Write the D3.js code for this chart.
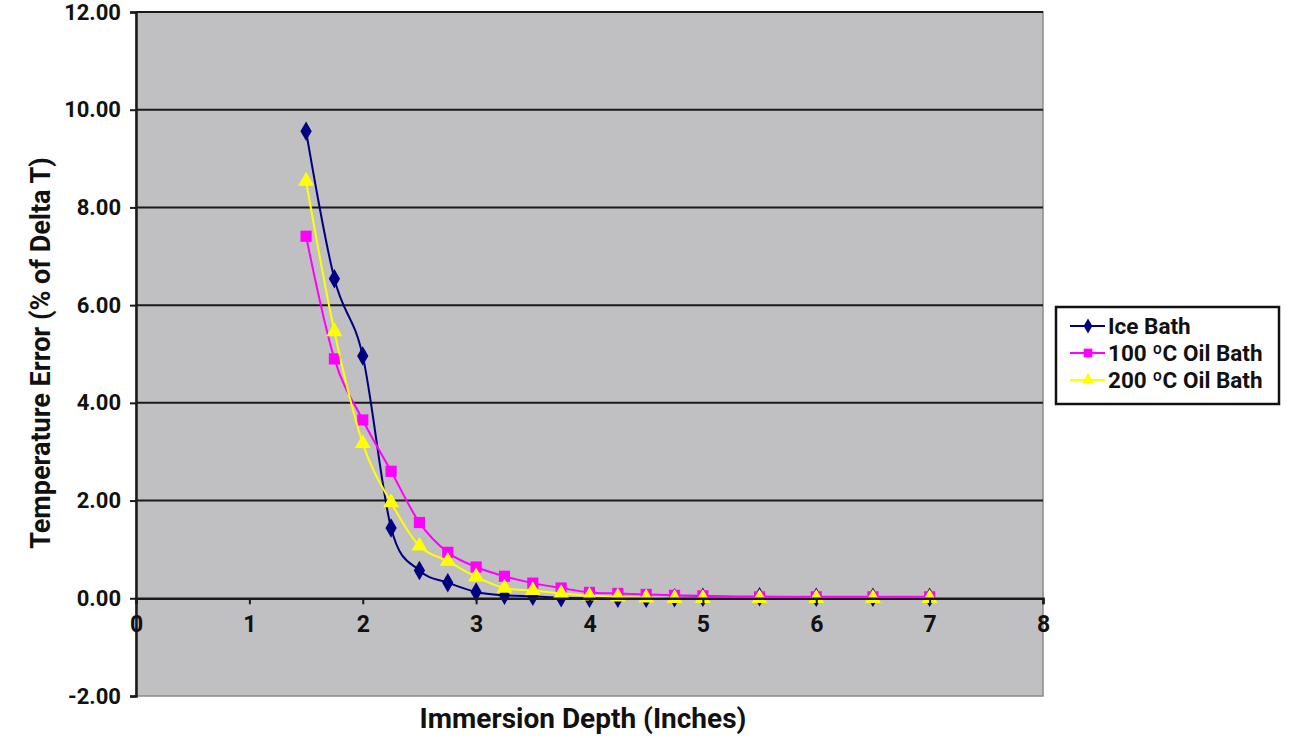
<!DOCTYPE html>
<html>
<head>
<meta charset="utf-8">
<script src="https://cdn.jsdelivr.net/npm/d3@7"></script>
<style>
  html, body { margin: 0; padding: 0; background: #ffffff; }
  svg { display: block; font-family: Roboto, "Noto Sans", sans-serif; }
</style>
</head>
<body>
<svg id="chart" width="1300" height="738"></svg>
<script>
// ---- Data ----
const depths = [1.5, 1.75, 2, 2.25, 2.5, 2.75, 3, 3.25, 3.5, 3.75, 4, 4.25, 4.5, 4.75, 5, 5.5, 6, 6.5, 7];
const iceBath   = [9.56, 6.54, 4.96, 1.44, 0.57, 0.32, 0.13, 0.06, 0.04, 0.01, 0.0, 0.0, 0.0, 0.01, 0.02, 0.03, 0.02, 0.02, 0.02];
const oil100    = [7.41, 4.90, 3.65, 2.60, 1.55, 0.94, 0.64, 0.45, 0.31, 0.21, 0.12, 0.10, 0.08, 0.06, 0.05, 0.03, 0.03, 0.03, 0.03];
const oil200    = [8.54, 5.46, 3.17, 1.96, 1.07, 0.76, 0.44, 0.21, 0.16, 0.10, 0.05, 0.03, 0.01, 0.0, 0.0, 0.0, 0.0, 0.0, 0.0];
const seriesNames = ["Ice Bath", "100 ºC Oil Bath", "200 ºC Oil Bath"];
const yTicks = [-2, 0, 2, 4, 6, 8, 10, 12];
const xTicks = [0, 1, 2, 3, 4, 5, 6, 7, 8];
const xTitle = "Immersion Depth (Inches)";
const yTitle = "Temperature Error (% of Delta T)";

const seriesStyle = [
  { color: "#000080", symbol: d3.symbolDiamond, size: 110 },
  { color: "#FF00FF", symbol: d3.symbolSquare, size: 125 },
  { color: "#FFFF00", symbol: d3.symbolTriangle, size: 110 }
];
const seriesValues = [iceBath, oil100, oil200];

// ---- Layout ----
const svg = d3.select("#chart");
const pLeft = 136, pTop = 12, pRight = 1043, pBottom = 696;
const x = d3.scaleLinear().domain([0, 8]).range([pLeft, pRight]);
const y = d3.scaleLinear().domain([-2, 12]).range([pBottom, pTop]);
const yFmt = v => d3.format(".2f")(v).replace("\u2212", "-");

// plot area
svg.append("rect")
  .attr("x", pLeft).attr("y", pTop)
  .attr("width", pRight - pLeft).attr("height", pBottom - pTop)
  .attr("fill", "#C0BFC1")
  .attr("stroke", "#8a8a8a").attr("stroke-width", 1.5);

// gridlines
svg.append("g")
  .selectAll("line")
  .data(yTicks.filter(v => v !== 0 && v !== -2))
  .join("line")
  .attr("x1", pLeft).attr("x2", pRight)
  .attr("y1", d => y(d)).attr("y2", d => y(d))
  .attr("stroke", "#1a1a1a").attr("stroke-width", 2);

// Y axis
const yAxis = svg.append("g")
  .attr("transform", `translate(${pLeft},0)`)
  .call(d3.axisLeft(y).tickValues(yTicks).tickFormat(yFmt).tickSize(6).tickPadding(9));
yAxis.select(".domain").attr("stroke", "#1a1a1a").attr("stroke-width", 2.5);
yAxis.selectAll(".tick line").attr("stroke", "#1a1a1a").attr("stroke-width", 2);
yAxis.selectAll(".tick text")
  .attr("font-family", "Roboto, sans-serif")
  .attr("font-weight", "bold").attr("font-size", 22).attr("fill", "#111");

// series
const line = d3.line()
  .x(d => x(d[0]))
  .y(d => y(d[1]))
  .curve(d3.curveCardinal.tension(0));

seriesValues.forEach((vals, i) => {
  const pts = depths.map((d, j) => [d, vals[j]]);
  const st = seriesStyle[i];
  const g = svg.append("g");
  g.append("path")
    .datum(pts)
    .attr("d", line)
    .attr("fill", "none")
    .attr("stroke", st.color)
    .attr("stroke-width", 2);
  g.selectAll("path.m")
    .data(pts)
    .join("path")
    .attr("class", "m")
    .attr("transform", d => `translate(${x(d[0])},${y(d[1])})`)
    .attr("d", d3.symbol().type(st.symbol).size(st.size))
    .attr("fill", st.color);
});

// X axis at y=0
const xAxis = svg.append("g")
  .attr("transform", `translate(0,${y(0)})`)
  .call(d3.axisBottom(x).tickValues(xTicks).tickFormat(d3.format("d")).tickSize(6).tickPadding(11));
xAxis.select(".domain").attr("stroke", "#1a1a1a").attr("stroke-width", 2.5);
xAxis.selectAll(".tick line").attr("stroke", "#1a1a1a").attr("stroke-width", 2);
xAxis.selectAll(".tick text")
  .attr("font-family", "Roboto, sans-serif")
  .attr("font-weight", "bold").attr("font-size", 23).attr("fill", "#111");

// Axis titles
svg.append("text")
  .attr("x", 583).attr("y", 728)
  .attr("text-anchor", "middle")
  .attr("font-weight", "bold").attr("font-size", 28).attr("fill", "#111")
  .text(xTitle);

svg.append("text")
  .attr("transform", `translate(50,353) rotate(-90)`)
  .attr("text-anchor", "middle")
  .attr("font-weight", "bold").attr("font-size", 27).attr("fill", "#111")
  .text(yTitle);

// Legend
const lg = svg.append("g").attr("transform", "translate(1056,307)");
lg.append("rect")
  .attr("width", 223).attr("height", 97)
  .attr("fill", "#ffffff").attr("stroke", "#111").attr("stroke-width", 2.5);
seriesNames.forEach((name, i) => {
  const st = seriesStyle[i];
  const cy = 19 + i * 27;
  lg.append("line")
    .attr("x1", 14).attr("x2", 49).attr("y1", cy).attr("y2", cy)
    .attr("stroke", st.color).attr("stroke-width", 2);
  lg.append("path")
    .attr("transform", `translate(32,${cy})`)
    .attr("d", d3.symbol().type(st.symbol).size(st.size * 0.6))
    .attr("fill", st.color);
  lg.append("text")
    .attr("x", 52).attr("y", cy + 8)
    .attr("font-weight", "bold").attr("font-size", 22.5).attr("fill", "#111")
    .text(name);
});
</script>
</body>
</html>
